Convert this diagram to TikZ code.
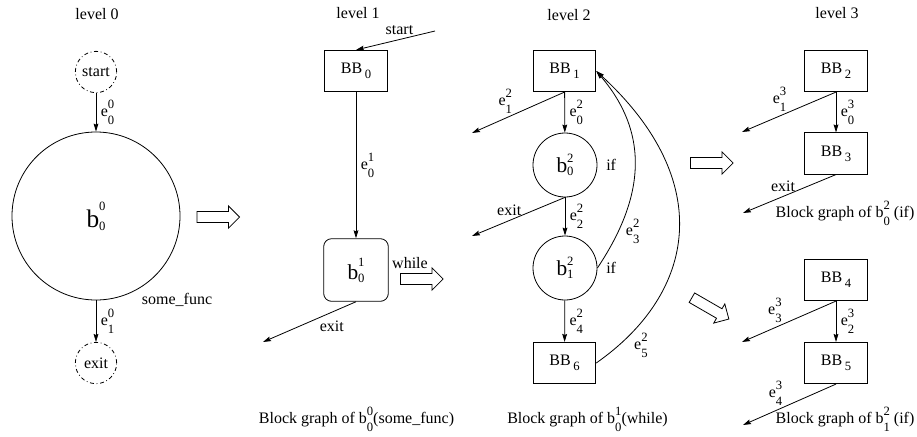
\documentclass[tikz,border=0pt]{standalone}
\usepackage{fontspec}
\setmainfont{Liberation Serif}
\usetikzlibrary{arrows.meta,shapes.arrows,positioning}
\newcommand{\idx}{\fontsize{9.5}{10}\selectfont}
\newcommand{\ed}[3]{#1\makebox[0pt][l]{\raisebox{6pt}{\idx #2}}\raisebox{-6pt}{\idx #3}}
\newcommand{\bl}[4][7.5pt]{#2\makebox[0pt][l]{\raisebox{#1}{\idx #3}}\raisebox{-2pt}{\idx #4}}
\newcommand{\BB}[1]{BB\,\raisebox{-3.5pt}{\idx #1}}

\begin{document}
\begin{tikzpicture}[x=0.75pt,y=-0.75pt,line width=0.6pt,
   >={Stealth[length=6pt,width=3.6pt,inset=0.8pt]},
   font=\fontsize{12}{14}\selectfont,
   bb/.style={draw,minimum width=47pt,minimum height=31pt,inner sep=0pt},
   blk/.style={draw,circle,minimum size=48pt,inner sep=0pt,font=\fontsize{16}{18}\selectfont},
   term/.style={draw,circle,dash dot,minimum size=31pt,inner sep=0pt},
   big/.style={single arrow,draw,inner sep=3.8pt,single arrow head extend=4.2pt,minimum height=32pt},
   bgcap/.style={anchor=base}]
   \useasboundingbox (0,0) rectangle (917,436);

   \node at (97,14) {level 0};
   \node (start0) at (96,72) [term] {start};
   \node (b00) at (96,216) [circle,draw,minimum size=126pt,inner sep=0pt,font=\fontsize{19}{21}\selectfont] {\bl[13pt]{b}{0}{0}};
   \node (exit0) at (96,363) [term] {exit};
   \node at (177,300) {some\_func};
   \draw[->] (start0) -- node[right] {\ed{e}{0}{0}} (b00);
   \draw[->] (b00) -- node[right] {\ed{e}{0}{1}} (exit0);
   \node (to1) at (215.5,217) [big] {};

   \node at (358,13) {level 1};
   \node (bb0) at (356,71) [bb] {\BB{0}};
   \node (b01) at (356,270) [draw,rounded corners=6pt,minimum width=48.5pt,minimum height=47pt,font=\fontsize{16}{18}\selectfont] {\bl[10pt]{b}{1}{0}};
   \coordinate (in1) at (435,31);
   \coordinate (out1) at (263,342);
   \draw[->] (in1) -- node[above,pos=0.45] {start} (bb0.north);
   \draw[->] (bb0) -- node[right] {\ed{e}{1}{0}} (b01);
   \draw[->] (b01.south) -- node[below=3pt,pos=0.26] {exit} (out1);
   \node at (410,263) {while};
   \node (to2) at (419,279) [big] {};
   \node[bgcap] at (356.5,423) {Block graph of \ed{b}{0}{0}(some\_func)};

   \node at (569,15) {level 2};
   \node (bb1) at (564.5,71) [bb] {\BB{1}};
   \node (b02) at (565,165) [blk] {\bl{b}{2}{0}};
   \node (b12) at (565,268) [blk] {\bl{b}{2}{1}};
   \node (bb6) at (564.5,363) [bb] {\BB{6}};
   \node[right=3pt of b02] {if};
   \node[right=3pt of b12] {if};
   \coordinate (out2a) at (472,133);
   \coordinate (out2b) at (472,236);
   \draw[->] (bb1) -- node[right] {\ed{e}{2}{0}} (b02);
   \draw[->] (bb1.south) -- node[above,pos=0.64] {\ed{e}{2}{1}} (out2a);
   \draw[->] (b02) -- node[right] {\ed{e}{2}{2}} (b12);
   \draw[->] (b02.south) -- node[above,pos=0.6] {exit} (out2b);
   \draw[->] (b12) -- node[right] {\ed{e}{2}{4}} (bb6);
   \draw[->] (b12.east) .. controls +(40,-60) and +(60,70) .. node[pos=0.2,right=2pt] {\ed{e}{2}{3}} (bb1.east);
   \draw[->] (bb6.east) .. controls +(100,-70) and +(120,110) .. node[pos=0.08,right=8pt] {\ed{e}{2}{5}} (bb1.east);
   \node[bgcap] at (587.5,423) {Block graph of \ed{b}{1}{0}(while)};

   \node (to3a) at (709,163) [big] {};
   \node (to3b) at (708,307) [big,rotate=-30] {};

   \node at (837,13) {level 3};
   \node (bb2) at (836,71) [bb] {\BB{2}};
   \node (bb3) at (836,153.5) [bb] {\BB{3}};
   \node (bb4) at (836,280) [bb] {\BB{4}};
   \node (bb5) at (836,363) [bb] {\BB{5}};
   \coordinate (out3a) at (742,132);
   \coordinate (out3b) at (743,213);
   \coordinate (out3c) at (742,342);
   \coordinate (out3d) at (743,425);
   \draw[->] (bb2) -- node[right] {\ed{e}{3}{0}} (bb3);
   \draw[->] (bb2.south) -- node[above,pos=0.6] {\ed{e}{3}{1}} (out3a);
   \draw[->] (bb3.south) -- node[above,pos=0.57] {exit} (out3b);
   \node[bgcap] at (845,217) {Block graph of \ed{b}{2}{0} (if)};
   \draw[->] (bb4) -- node[right] {\ed{e}{3}{2}} (bb5);
   \draw[->] (bb4.south) -- node[above,pos=0.65] {\ed{e}{3}{3}} (out3c);
   \draw[->] (bb5.south) -- node[above,pos=0.65] {\ed{e}{3}{4}} (out3d);
   \node[bgcap] at (845,423) {Block graph of \ed{b}{2}{1} (if)};
  \end{tikzpicture}
\end{document}
